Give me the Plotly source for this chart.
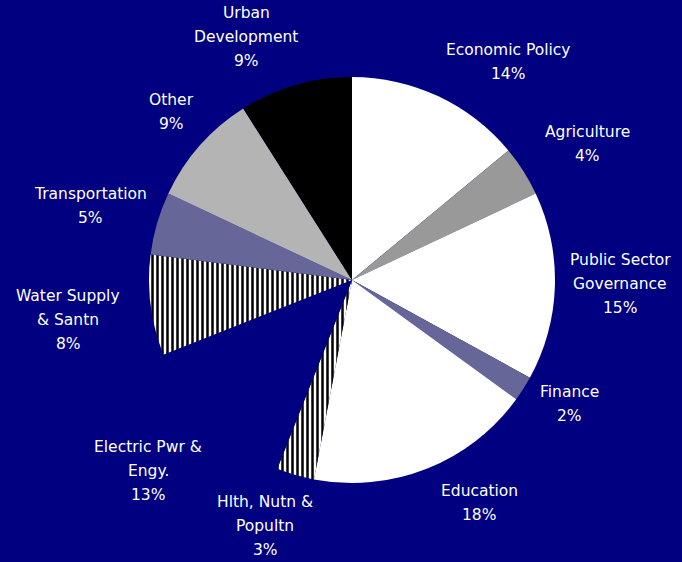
import plotly.graph_objects as go

# ---- data ----
sectors = ["Economic Policy", "Agriculture", "Public Sector Governance", "Finance",
           "Education", "Hlth, Nutn & Popultn", "Electric Pwr & Engy.",
           "Water Supply & Santn", "Transportation", "Other", "Urban Development"]
shares = [14, 4, 15, 2, 18, 3, 13, 8, 5, 9, 9]
label_lines = [["Economic Policy"], ["Agriculture"], ["Public Sector", "Governance"],
               ["Finance"], ["Education"], ["Hlth, Nutn &", "Popultn"],
               ["Electric Pwr &", "Engy."], ["Water Supply", "& Santn"],
               ["Transportation"], ["Other"], ["Urban", "Development"]]

# ---- style ----
BG = "#000080"
colors = ["#ffffff", "#999999", "#ffffff", "#666699", "#ffffff", "#ffffff",
          "#000080", "#ffffff", "#666699", "#b4b4b4", "#000000"]
shapes_ = ["", "", "", "", "", "|", "", "|", "", "", ""]
# label block centers (pixels) and first-line y
label_pos = [(508, 50), (587, 132), (620, 260), (569, 392), (479, 491), (265, 502),
             (148, 447), (68, 296), (90, 194), (171, 100), (246, 13)]
W, H = 682, 562
LINE = 24

fig = go.Figure(go.Pie(
    labels=sectors, values=shares, sort=False, direction="clockwise", rotation=0,
    textinfo="none", hoverinfo="label+percent",
    marker=dict(colors=colors, line=dict(width=0),
                pattern=dict(shape=shapes_, fgcolor="#000000", bgcolor="#ffffff",
                             size=5, solidity=0.5, fillmode="replace")),
    domain=dict(x=[(352 - 203) / W, (352 + 203) / W], y=[(282 - 203) / H, (282 + 203) / H]),
    showlegend=False,
))

total = sum(shares)
annotations = []
for lines, v, (px, py) in zip(label_lines, shares, label_pos):
    all_lines = lines + [f"{round(100 * v / total)}%"]
    for i, t in enumerate(all_lines):
        annotations.append(dict(
            x=px / W, y=1 - (py + i * LINE) / H, xref="paper", yref="paper",
            text=t, showarrow=False, xanchor="center", yanchor="middle",
            font=dict(family="DejaVu Sans, Verdana, sans-serif", size=15.5, color="#ffffff")))

fig.update_layout(
    width=W, height=H, margin=dict(l=0, r=0, t=0, b=0),
    paper_bgcolor=BG, plot_bgcolor=BG, annotations=annotations,
)
fig.write_html("out.html")
